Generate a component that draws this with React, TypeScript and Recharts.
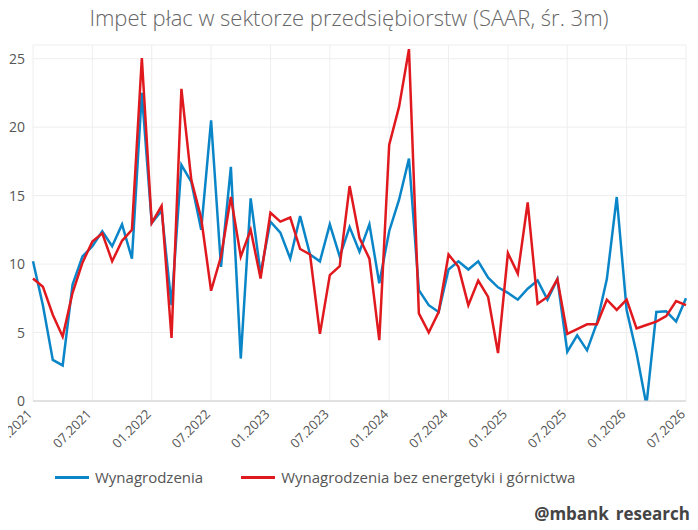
import { CartesianGrid, Line, LineChart, XAxis, YAxis } from "recharts";

const wages = [
  10.2, 7.0, 3.0, 2.6, 8.5, 10.55, 11.3, 12.4, 11.3, 12.9, 10.4, 22.5, 13.0, 13.9, 7.0, 17.25,
  16.0, 12.5, 20.5, 9.8, 17.1, 3.1, 14.8, 9.3, 13.1, 12.3, 10.4, 13.5, 10.7, 10.2, 12.9, 10.55,
  12.7, 10.9, 12.9, 8.6, 12.4, 14.7, 17.7, 8.1, 7.0, 6.5, 9.6, 10.2, 9.6, 10.2, 9.0, 8.3, 7.9,
  7.4, 8.2, 8.8, 7.4, 8.9, 3.6, 4.8, 3.7, 5.7, 8.9, 14.9, 6.65, 3.5, -0.3, 6.5, 6.55, 5.8, 7.5,
];
const wagesCore = [
  8.95, 8.35, 6.3, 4.7, 7.9, 10.1, 11.65, 12.25, 10.2, 11.7, 12.5, 25.05, 13.0, 14.25, 4.6, 22.8,
  16.15, 13.35, 8.05, 10.55, 14.9, 10.55, 12.5, 8.95, 13.75, 13.1, 13.4, 11.1, 10.7, 4.9, 9.2, 9.85,
  15.7, 11.9, 10.4, 4.45, 18.7, 21.5, 25.7, 6.4, 5.0, 6.5, 10.7, 9.8, 7.0, 8.8, 7.6, 3.5, 10.8,
  9.3, 14.5, 7.1, 7.6, 8.9, 4.9, 5.25, 5.6, 5.6, 7.4, 6.65, 7.4, 5.3, 5.55, 5.8, 6.2, 7.3, 7.0,
];
const yTicks = [0, 5, 10, 15, 20, 25];

const months = wages.map((_, i) => {
  const m = (i % 12) + 1;
  const y = 2021 + Math.floor(i / 12);
  return `${String(m).padStart(2, "0")}.${y}`;
});
const xTicks = months.filter((_, i) => i % 6 === 0);

const data = months.map((month, i) => ({ month, wages: wages[i], core: wagesCore[i] }));

const font = "'Open Sans', Lato, sans-serif";
const grey = "#555";

function XTick({ x, y, payload }: any) {
  return (
    <text x={x} y={y} dy={6} textAnchor="end" transform={`rotate(-45 ${x} ${y + 6})`} fill={grey} fontSize={13} fontFamily={font}>
      {payload.value}
    </text>
  );
}

export default function App() {
  return (
    <div style={{ position: "relative", width: 698, height: 530, margin: -8, background: "#fff", fontFamily: font }}>
      <div style={{ position: "absolute", top: 2, width: 698, textAlign: "center", fontSize: 22, color: "#666", fontWeight: 300 }}>
        Impet płac w sektorze przedsiębiorstw (SAAR, śr. 3m)
      </div>
      <div style={{ position: "absolute", top: 0, left: 0 }}>
        <LineChart width={698} height={455} data={data} margin={{ top: 45, right: 12, left: 0, bottom: 0 }}>
          <CartesianGrid stroke="#eee" />
          <XAxis dataKey="month" ticks={xTicks} interval={0} tick={<XTick />} tickLine={false} axisLine={{ stroke: "#ccc" }} height={54} />
          <YAxis domain={[0, 26]} ticks={yTicks} allowDataOverflow tick={{ fill: grey, fontSize: 14, fontFamily: font }} axisLine={false} tickLine={false} width={33} />
          <Line dataKey="wages" stroke="#0a86c8" strokeWidth={2.5} dot={false} isAnimationActive={false} />
          <Line dataKey="core" stroke="#e0191e" strokeWidth={2.5} dot={false} isAnimationActive={false} />
        </LineChart>
      </div>
      <div style={{ position: "absolute", top: 467, left: 55, display: "flex", alignItems: "center", fontSize: 15, color: grey }}>
        <span style={{ width: 34, height: 3, background: "#0a86c8", marginRight: 6 }} />
        <span style={{ marginRight: 38 }}>Wynagrodzenia</span>
        <span style={{ width: 34, height: 3, background: "#e0191e", marginRight: 6 }} />
        <span>Wynagrodzenia bez energetyki i górnictwa</span>
      </div>
      <div style={{ position: "absolute", top: 502, right: 8, fontSize: 17, fontWeight: 700, color: "#444" }}>@mbank_research</div>
    </div>
  );
}
